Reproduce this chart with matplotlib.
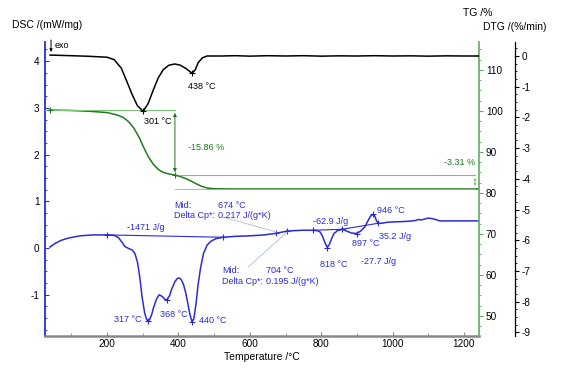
import matplotlib
matplotlib.use("Agg")
import matplotlib.pyplot as plt
from matplotlib.ticker import MultipleLocator

plt.rcParams['font.family'] = ['Liberation Sans', 'DejaVu Sans']

# ---------------- data ----------------
dtg_T = [40, 100, 150, 200, 220, 240, 256, 270, 285, 301, 315, 329, 343, 357, 373, 390, 405, 420,
         438, 447, 455, 467, 480, 520, 560, 600, 650, 700, 750, 800, 850, 900, 950, 1000, 1050,
         1100, 1150, 1200, 1240]
dtg_v = [0.03, 0.01, -0.01, -0.04, -0.12, -0.40, -0.85, -1.25, -1.62, -1.80, -1.55, -1.12, -0.72,
         -0.45, -0.30, -0.26, -0.30, -0.40, -0.56, -0.45, -0.22, -0.06, 0.0, 0.0, 0.01, -0.005, 0.01,
         0.0, 0.01, -0.005, 0.005, 0.0, 0.01, 0.0, 0.005, -0.005, 0.005, 0.0, 0.0]

tg_T = [40, 100, 150, 200, 228, 245, 260, 275, 290, 302, 315, 330, 345, 360, 375, 390, 405, 420,
        435, 450, 465, 480, 500, 550, 700, 900, 1100, 1240]
tg_v = [100.2, 100.1, 99.9, 99.6, 99.0, 98.4, 97.4, 95.8, 93.5, 91.2, 88.9, 86.9, 85.6, 84.9,
        84.6, 84.34, 84.0, 83.5, 82.9, 82.2, 81.6, 81.2, 81.0, 80.95, 80.95, 80.95, 80.95, 80.95]

dsc_T = [40, 55, 70, 90, 124, 160, 200, 220, 232, 242, 250, 260, 270, 278, 285, 292, 298, 305,
         310, 315, 320, 325, 330, 338, 346, 355, 362, 368, 375, 381, 390, 397, 402, 408, 414, 420,
         426, 432, 438, 443, 449, 455, 462, 470, 480, 490, 505, 525, 560, 600, 640, 670, 690, 703,
         720, 750, 778, 790, 797, 803, 810, 817, 823, 830, 836, 845, 858, 866, 875, 885, 899, 910,
         922, 930, 938, 945, 950, 955, 960, 970, 984, 1010, 1040, 1055, 1065, 1072, 1080, 1090,
         1100, 1110, 1120, 1133, 1160, 1200, 1240]
dsc_v = [0.02, 0.10, 0.16, 0.21, 0.26, 0.28, 0.28, 0.27, 0.22, 0.12, 0.03, -0.01, -0.04, -0.12,
         -0.30, -0.65, -1.05, -1.38, -1.52, -1.57, -1.52, -1.42, -1.28, -1.10, -1.00, -1.04, -1.10,
         -1.11, -1.02, -0.88, -0.72, -0.65, -0.64, -0.68, -0.78, -0.95, -1.18, -1.42, -1.58, -1.52,
         -1.20, -0.78, -0.42, -0.12, 0.06, 0.14, 0.20, 0.23, 0.25, 0.26, 0.28, 0.31, 0.34, 0.36,
         0.37, 0.38, 0.38, 0.37, 0.34, 0.26, 0.12, 0.01, 0.08, 0.22, 0.31, 0.37, 0.40, 0.38, 0.35,
         0.32, 0.31, 0.36, 0.45, 0.57, 0.68, 0.72, 0.68, 0.58, 0.53, 0.53, 0.55, 0.56, 0.57, 0.58,
         0.59, 0.61, 0.60, 0.62, 0.64, 0.63, 0.61, 0.58, 0.58, 0.58, 0.58]

dsc_peaks_T = [315, 368, 438, 817, 899, 945]
dsc_peaks_v = [-1.57, -1.11, -1.58, 0.01, 0.31, 0.72]
dtg_peaks_T = [301, 438]
dtg_peaks_v = [-1.80, -0.56]

tg_step1 = -15.86
tg_step2 = -3.31

BLUE = '#2b2bd6'
GREEN = '#1f7a1f'
LGREEN = '#7cc47c'

fig = plt.figure(figsize=(5.63, 3.68), dpi=100)
ax = fig.add_axes([45/563, 32/368, 434/563, 294/368])
ax_tg = ax.twinx()
ax_dtg = ax.twinx()

ax.set_xlim(26, 1242)
ax.set_ylim(-1.884, 4.41)
ax_tg.set_ylim(45.1, 116.8)
ax_dtg.set_ylim(-9.12, 0.456)

# curves
ax.plot(dsc_T, dsc_v, color=BLUE, lw=1.1, zorder=3)
ax.plot(dsc_peaks_T, dsc_peaks_v, '+', color=BLUE, ms=4, mew=0.8)
# integration baselines
ax.plot([200, 525], [0.28, 0.23], color=BLUE, lw=0.8)
ax.plot([200, 525], [0.28, 0.23], '+', color=BLUE, ms=4, mew=0.8)
ax.plot([778, 858], [0.38, 0.40], color=BLUE, lw=0.8)
ax.plot([778, 858], [0.38, 0.40], '+', color=BLUE, ms=4, mew=0.8)
ax.plot([858, 960], [0.40, 0.53], color=BLUE, lw=0.8)
ax.plot([960], [0.53], '+', color=BLUE, ms=4, mew=0.8)
ax.plot([674, 703], [0.32, 0.36], '+', color=BLUE, ms=4, mew=0.8)
# leader lines
ax.plot([525, 676], [0.66, 0.34], color='#b8c4e0', lw=0.7)
ax.plot([595, 704], [-0.41, 0.34], color='#b8c4e0', lw=0.7)

ax_dtg.plot(dtg_T, dtg_v, color='black', lw=1.1)
ax_dtg.plot(dtg_peaks_T, dtg_peaks_v, '+', color='black', ms=4, mew=0.8)

ax_tg.plot(tg_T, tg_v, color=GREEN, lw=1.1)
tg0 = tg_v[0]
tg1 = tg0 + tg_step1
tg2 = tg1 + tg_step2
ax_tg.plot([26, 390], [tg0, tg0], color=LGREEN, lw=0.8)
ax_tg.plot([390, 1231], [tg1, tg1], color=LGREEN, lw=0.8)
ax_tg.plot([390, 1231], [tg2, tg2], color=LGREEN, lw=0.6)
ax_tg.annotate('', xy=(390, tg1), xytext=(390, tg0),
               arrowprops=dict(arrowstyle='<|-|>', color=GREEN, lw=0.7, mutation_scale=5))
ax_tg.annotate('', xy=(1231, tg2), xytext=(1231, tg1),
               arrowprops=dict(arrowstyle='<|-|>', color=LGREEN, lw=0.6, mutation_scale=3))
ax_tg.plot([40, 390], [tg0, tg1], '+', color=GREEN, ms=4, mew=0.8)

fs = 6.5
# annotations
ax.text(256, 0.43, '-1471 J/g', color=BLUE, fontsize=fs, va='center')
ax.text(388, 0.92, 'Mid:', color=BLUE, fontsize=fs, va='center')
ax.text(510, 0.92, '674 °C', color=BLUE, fontsize=fs, va='center')
ax.text(388, 0.685, 'Delta Cp*:', color=BLUE, fontsize=fs, va='center')
ax.text(510, 0.685, '0.217 J/(g*K)', color=BLUE, fontsize=fs, va='center')
ax.text(522, -0.49, 'Mid:', color=BLUE, fontsize=fs, va='center')
ax.text(645, -0.49, '704 °C', color=BLUE, fontsize=fs, va='center')
ax.text(522, -0.71, 'Delta Cp*:', color=BLUE, fontsize=fs, va='center')
ax.text(645, -0.71, '0.195 J/(g*K)', color=BLUE, fontsize=fs, va='center')
ax.text(777, 0.56, '-62.9 J/g', color=BLUE, fontsize=fs, va='center')
ax.text(797, -0.36, '818 °C', color=BLUE, fontsize=fs, va='center')
ax.text(956, 0.81, '946 °C', color=BLUE, fontsize=fs, va='center')
ax.text(962, 0.24, '35.2 J/g', color=BLUE, fontsize=fs, va='center')
ax.text(886, 0.09, '897 °C', color=BLUE, fontsize=fs, va='center')
ax.text(911, -0.28, '-27.7 J/g', color=BLUE, fontsize=fs, va='center')
ax.text(220, -1.54, '317 °C', color=BLUE, fontsize=fs, va='center')
ax.text(349, -1.43, '368 °C', color=BLUE, fontsize=fs, va='center')
ax.text(458, -1.56, '440 °C', color=BLUE, fontsize=fs, va='center')
ax.text(304, 2.70, '301 °C', color='black', fontsize=fs, va='center')
ax.text(427, 3.45, '438 °C', color='black', fontsize=fs, va='center')
ax.text(427, 2.16, '-15.86 %', color=GREEN, fontsize=fs, va='center')
ax.text(1231, 1.82, '-3.31 %', color=GREEN, fontsize=fs, va='center', ha='right')
# exo arrow
ax_dtg.annotate('', xy=(6/434, 1 - 10/294), xytext=(6/434, 1 + 2/294),
                xycoords='axes fraction', textcoords='axes fraction',
                arrowprops=dict(arrowstyle='-|>', color='black', lw=0.7, mutation_scale=4,
                                shrinkA=0, shrinkB=0), annotation_clip=False)
ax_dtg.text(10/434, 1 - 4/294, 'exo', transform=ax_dtg.transAxes, fontsize=fs,
            va='center', ha='left')

# axes styling
for a in (ax, ax_tg, ax_dtg):
    a.spines['top'].set_visible(False)
ax.spines['right'].set_visible(False)
ax.spines['left'].set_color(BLUE)
ax.spines['left'].set_linewidth(1.3)
ax.spines['bottom'].set_color('#888888')
ax.spines['bottom'].set_linewidth(1.8)
ax_tg.spines['left'].set_visible(False)
ax_tg.spines['bottom'].set_visible(False)
ax_tg.spines['right'].set_color('#5cae5c')
ax_tg.spines['right'].set_linewidth(1.2)
ax_dtg.spines['left'].set_visible(False)
ax_dtg.spines['bottom'].set_visible(False)
ax_dtg.spines['right'].set_position(('axes', 1.083))
ax_dtg.spines['right'].set_color('black')
ax_dtg.spines['right'].set_linewidth(0.9)

ax.xaxis.set_major_locator(MultipleLocator(200))
ax.xaxis.set_minor_locator(MultipleLocator(100))
ax.yaxis.set_major_locator(MultipleLocator(1))
ax.yaxis.set_minor_locator(MultipleLocator(0.25))
ax_tg.yaxis.set_major_locator(MultipleLocator(10))
ax_tg.yaxis.set_minor_locator(MultipleLocator(2.5))
ax_dtg.yaxis.set_major_locator(MultipleLocator(1))
ax_dtg.yaxis.set_minor_locator(MultipleLocator(0.25))

ax.tick_params(axis='x', which='both', direction='in', labelsize=7.2, pad=2, color='#888888')
ax.tick_params(axis='x', which='major', length=3)
ax.tick_params(axis='x', which='minor', length=2)
ax.tick_params(axis='y', which='both', direction='in', labelsize=7.2, color=BLUE, pad=4)
ax.tick_params(axis='y', which='major', length=3)
ax.tick_params(axis='y', which='minor', length=1.5)
ax_tg.tick_params(axis='y', which='both', direction='out', labelsize=7.2, color='#5cae5c', pad=2)
ax_tg.tick_params(axis='y', which='major', length=3)
ax_tg.tick_params(axis='y', which='minor', length=1.5)
ax_dtg.tick_params(axis='y', which='both', direction='out', labelsize=7.2, pad=2)
ax_dtg.tick_params(axis='y', which='major', length=3)
ax_dtg.tick_params(axis='y', which='minor', length=1.5)

ax.set_xticks([200, 400, 600, 800, 1000, 1200])
ax.set_yticks([-1, 0, 1, 2, 3, 4])
ax.set_yticklabels(['-1', '0', '1', '2', '3', '4'])
ax_tg.set_yticks([50, 60, 70, 80, 90, 100, 110])
ax_dtg.set_yticks(list(range(-9, 1)))
ax_dtg.set_yticklabels([str(v) for v in range(-9, 1)])

fig.text(262/563, 1 - 357/368, 'Temperature /°C', fontsize=7.5, ha='center', va='center')
fig.text(12/563, 1 - 25/368, 'DSC /(mW/mg)', fontsize=7.5, ha='left', va='center')
fig.text(463/563, 1 - 13/368, 'TG /%', fontsize=7.5, ha='left', va='center')
fig.text(483/563, 1 - 27/368, 'DTG /(%/min)', fontsize=7.5, ha='left', va='center')

fig.savefig('out.png', dpi=100)
